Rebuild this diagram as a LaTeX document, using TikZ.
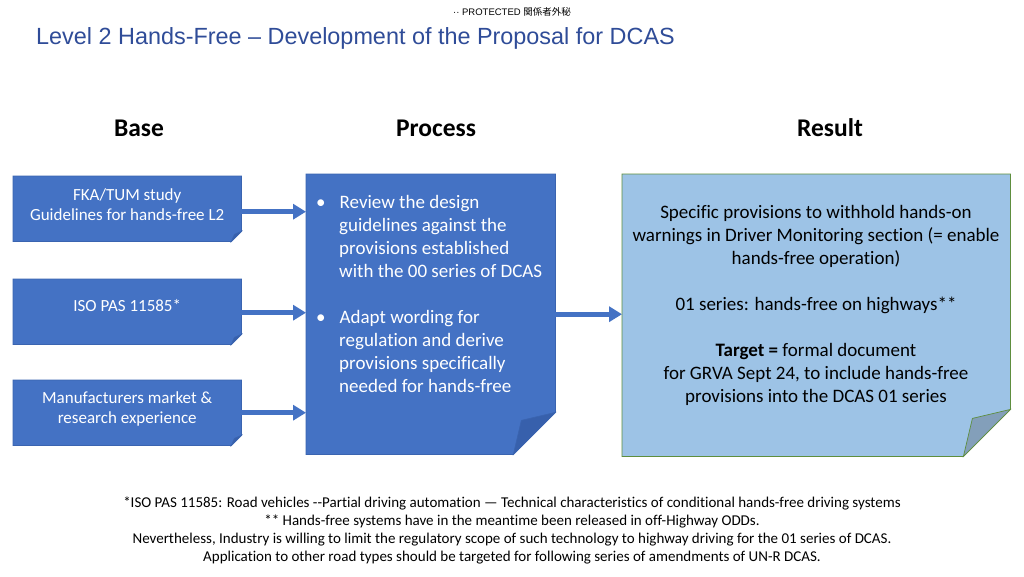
\documentclass[tikz,border=0pt]{standalone}
\usepackage{fontspec}
\setmainfont{Carlito}[Ligatures={NoCommon}]
\newfontfamily\arialf{Liberation Sans}
\newfontfamily\cjkf{Noto Sans CJK JP}
\usetikzlibrary{arrows.meta}
\definecolor{boxblue}{HTML}{4472C4}
\definecolor{boxedge}{HTML}{3A64B0}
\definecolor{foldblue}{HTML}{3760AC}
\definecolor{resfill}{HTML}{9DC3E6}
\definecolor{resedge}{HTML}{5E8E3E}
\definecolor{resfold}{HTML}{839FBA}
\definecolor{titleblue}{HTML}{2F4C98}
\newcommand{\foldshape}[6]{%
  \filldraw[fill=#3, draw=#4, line width=0.7pt]
    (#1.north west) -- (#1.north east) -- ([yshift=#2pt]#1.south east)
    -- ([xshift=-#2pt]#1.south east) -- (#1.south west) -- cycle;
  \filldraw[fill=#5, draw=#4, line width=0.7pt]
    ([yshift=#2pt]#1.south east) -- ([xshift=-#6pt, yshift=#6pt]#1.south east)
    -- ([xshift=-#2pt]#1.south east) -- cycle;
}
\begin{document}
\begin{tikzpicture}[x=1pt,y=-1pt,
  area/.style={draw=none, inner sep=0pt, anchor=north west},
  basetext/.style={text=white, align=center, font=\fontsize{17}{20}\selectfont, inner sep=0pt},
  heading/.style={font=\bfseries\fontsize{25.5}{30}\selectfont, inner sep=0pt},
  arr/.style={draw=boxblue, line width=5pt, -{Triangle[width=15pt,length=13pt]}}
]
\useasboundingbox[fill=white] (0,0) rectangle (1024,576);

% header and title
\node[inner sep=0pt, font=\arialf\fontsize{9.5}{11}\selectfont] (hdr) at (512,12) {·· PROTECTED {\cjkf 関係者外秘}};
\node[inner sep=0pt, anchor=base west, text=titleblue, font=\arialf\fontsize{23.4}{28}\selectfont] (title) at (36,44) {Level 2 Hands-Free – Development of the Proposal for DCAS};

% headings
\node[heading] (hbase) at (139,128) {Base};
\node[heading] (hproc) at (436,128) {Process};
\node[heading] (hres) at (830,128) {Result};

% areas
\node[area, minimum width=228pt, minimum height=65pt] (b1) at (13,176) {};
\node[area, minimum width=228pt, minimum height=65pt] (b2) at (13,279) {};
\node[area, minimum width=228pt, minimum height=65pt] (b3) at (13,380) {};
\node[area, minimum width=249pt, minimum height=280pt] (proc) at (306,174) {};
\node[area, minimum width=388pt, minimum height=282pt] (res) at (622,174) {};

\foldshape{b1}{10}{boxblue}{boxedge}{foldblue}{7}
\foldshape{b2}{10}{boxblue}{boxedge}{foldblue}{7}
\foldshape{b3}{10}{boxblue}{boxedge}{foldblue}{7}
\foldshape{proc}{42}{boxblue}{boxedge}{foldblue}{34}
\foldshape{res}{47}{resfill}{resedge}{resfold}{38}

% texts in boxes
\node[basetext] (t1) at ([yshift=4pt]b1.center) {FKA/TUM study\\Guidelines for hands-free L2};
\node[basetext] (t2) at ([yshift=6pt]b2.center) {ISO PAS 11585*};
\node[basetext] (t3) at ([yshift=4pt]b3.center) {Manufacturers market \&\\research experience};

\node[inner sep=0pt, anchor=north west, text=white, align=left,
      font=\fontsize{19}{23}\selectfont] (ptext) at (316,195)
  {•\hspace{14pt}Review the design\\
   \hspace{23pt}guidelines against the\\
   \hspace{23pt}provisions established\\
   \hspace{23pt}with the 00 series of DCAS\\[23pt]
   •\hspace{14pt}Adapt wording for\\
   \hspace{23pt}regulation and derive\\
   \hspace{23pt}provisions specifically\\
   \hspace{23pt}needed for hands-free};

\node[inner sep=0pt, anchor=north, align=center,
      font=\fontsize{19}{23}\selectfont] (rtext) at (816,205)
  {Specific provisions to withhold hands-on\\
   warnings in Driver Monitoring section (= enable\\
   hands-free operation)\\[23pt]
   01 series: hands-free on highways**\\[23pt]
   \textbf{Target =} formal document\\
   for GRVA Sept 24, to include hands-free\\
   provisions into the DCAS 01 series};

% arrows
\draw[arr] ([yshift=-3pt]b1.east) -- ([yshift=-3pt]b1.east -| proc.west);
\draw[arr] ([yshift=-1pt]b2.east) -- ([yshift=-1pt]b2.east -| proc.west);
\draw[arr] (b3.east) -- (b3.east -| proc.west);
\draw[arr] (proc.east) -- (proc.east -| res.west);

% footnotes
\node[inner sep=0pt, anchor=north, align=center,
      font=\fontsize{15}{18}\selectfont] (foot) at (512,497)
  {*ISO PAS 11585: Road vehicles -{}-Partial driving automation — Technical characteristics of conditional hands-free driving systems\\
   ** Hands-free systems have in the meantime been released in off-Highway ODDs.\\
   Nevertheless, Industry is willing to limit the regulatory scope of such technology to highway driving for the 01 series of DCAS.\\
   Application to other road types should be targeted for following series of amendments of UN-R DCAS.};
\end{tikzpicture}
\end{document}
